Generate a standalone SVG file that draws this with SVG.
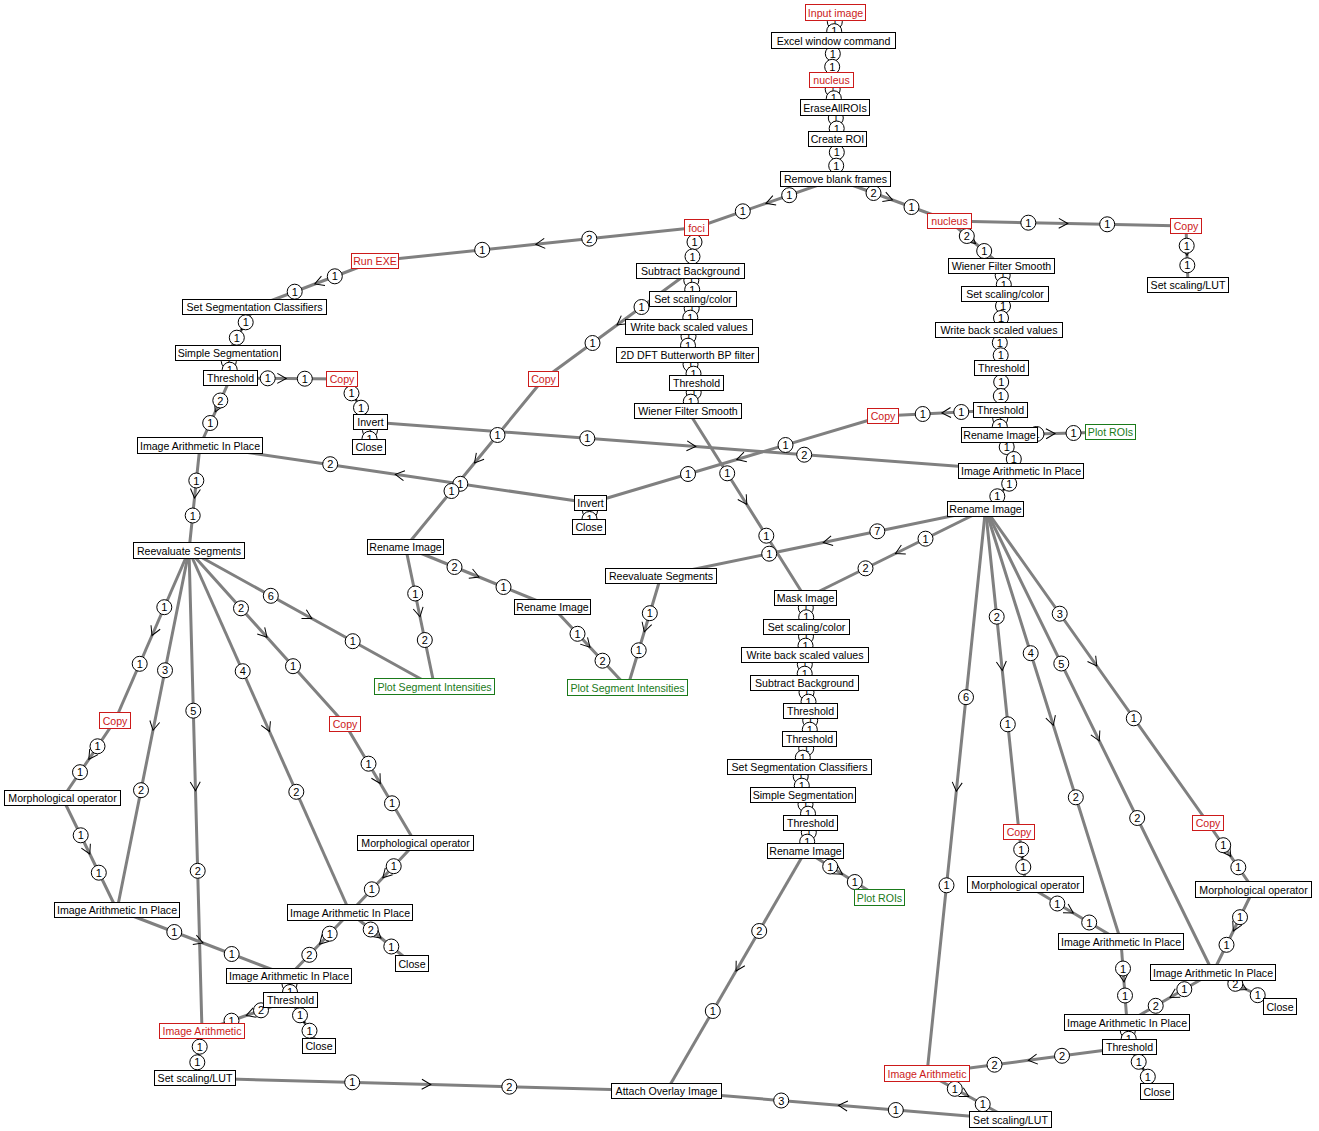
<svg xmlns="http://www.w3.org/2000/svg" width="1319" height="1131" viewBox="0 0 1319 1131">
<style>
text{font-family:"Liberation Sans",Arial,sans-serif;font-size:11px;text-anchor:middle}
.e{fill:none;stroke:#808080;stroke-width:3;marker-mid:url(#chev)}
.p circle{fill:#fff;stroke:#000;stroke-width:1}
.p text{fill:#000}
.node rect{fill:#fff;stroke:#000;stroke-width:1}
.node text{fill:#000;font-size:10.6px}
.red rect{stroke:#cc1a1a}
.red text{fill:#cc1a1a}
.grn rect{stroke:#1a7a1a}
.grn text{fill:#1a7a1a}
</style>
<defs>
<marker id="chev" viewBox="-10 -6 12 12" refX="0" refY="0" markerWidth="12" markerHeight="12" markerUnits="userSpaceOnUse" orient="auto">
<path d="M-9,-5L0,0L-9,5" fill="none" stroke="#000" stroke-width="1"/>
</marker>
</defs>
<rect width="1319" height="1131" fill="#fff"/>
<g id="connectors">
<g id="lines">
<path class="e" d="M835.5 12.5L834.5 26.5L833.5 40.5"/>
<path class="e" d="M833.5 40.5L832.5 60.3L831.5 80"/>
<path class="e" d="M831.5 80L833.3 93.8L835 107.5"/>
<path class="e" d="M835 107.5L836.3 123.3L837.5 139"/>
<path class="e" d="M837.5 139L836.5 159L835.5 179"/>
<path class="e" d="M835.5 179L766 203.3L696.5 227.5"/>
<path class="e" d="M835.5 179L892.5 200L949.5 221"/>
<path class="e" d="M949.5 221L1067.8 223.5L1186 226"/>
<path class="e" d="M1186 226L1187 255.5L1188 285"/>
<path class="e" d="M949.5 221L975.5 243.5L1001.5 266"/>
<path class="e" d="M1001.5 266L1003.3 280L1005 294"/>
<path class="e" d="M1005 294L1002 312L999 330"/>
<path class="e" d="M999 330L1000.3 349L1001.5 368"/>
<path class="e" d="M1001.5 368L1001 389L1000.5 410"/>
<path class="e" d="M1000.5 410L1000 422.5L999.5 435"/>
<path class="e" d="M1000.5 410L941.8 413L883 416"/>
<path class="e" d="M999.5 435L1055 433.5L1110.5 432"/>
<path class="e" d="M999.5 435L1010.3 453L1021 471"/>
<path class="e" d="M1021 471L1003.3 490L985.5 509"/>
<path class="e" d="M883 416L736.8 459.5L590.5 503"/>
<path class="e" d="M370.5 422L695.8 446.5L1021 471"/>
<path class="e" d="M590.5 503L395.3 474.3L200 445.5"/>
<path class="e" d="M590.5 503L589.8 515L589 527"/>
<path class="e" d="M370.5 422L369.8 434.5L369 447"/>
<path class="e" d="M342 379L356.3 400.5L370.5 422"/>
<path class="e" d="M230.5 378L286.3 378.5L342 379"/>
<path class="e" d="M230.5 378L215.3 411.8L200 445.5"/>
<path class="e" d="M228 353L229.3 365.5L230.5 378"/>
<path class="e" d="M254.5 307L241.3 330L228 353"/>
<path class="e" d="M375 261L314.8 284L254.5 307"/>
<path class="e" d="M696.5 227.5L535.8 244.3L375 261"/>
<path class="e" d="M696.5 227.5L693.5 249.3L690.5 271"/>
<path class="e" d="M690.5 271L691.8 285L693 299"/>
<path class="e" d="M693 299L691 313L689 327"/>
<path class="e" d="M689 327L688.3 341L687.5 355"/>
<path class="e" d="M687.5 355L692 369L696.5 383"/>
<path class="e" d="M696.5 383L692.3 397L688 411"/>
<path class="e" d="M690.5 271L617 325L543.5 379"/>
<path class="e" d="M543.5 379L474.5 463L405.5 547"/>
<path class="e" d="M405.5 547L420 616.8L434.5 686.5"/>
<path class="e" d="M405.5 547L479 577L552.5 607"/>
<path class="e" d="M552.5 607L590 647.3L627.5 687.5"/>
<path class="e" d="M661 576L644.3 631.8L627.5 687.5"/>
<path class="e" d="M189 550.5L311.8 618.5L434.5 686.5"/>
<path class="e" d="M985.5 509L823.3 542.5L661 576"/>
<path class="e" d="M985.5 509L895.5 553.5L805.5 598"/>
<path class="e" d="M688 411L746.8 504.5L805.5 598"/>
<path class="e" d="M805.5 598L806 612.5L806.5 627"/>
<path class="e" d="M806.5 627L805.8 641L805 655"/>
<path class="e" d="M805 655L804.8 669L804.5 683"/>
<path class="e" d="M804.5 683L807.5 697L810.5 711"/>
<path class="e" d="M810.5 711L810 725L809.5 739"/>
<path class="e" d="M809.5 739L804.5 753L799.5 767"/>
<path class="e" d="M799.5 767L801.3 781L803 795"/>
<path class="e" d="M803 795L806.8 809L810.5 823"/>
<path class="e" d="M810.5 823L808 837L805.5 851"/>
<path class="e" d="M805.5 851L842.5 874.3L879.5 897.5"/>
<path class="e" d="M805.5 851L736 971L666.5 1091"/>
<path class="e" d="M195 1078L430.8 1084.5L666.5 1091"/>
<path class="e" d="M1010.5 1119.5L838.5 1105.3L666.5 1091"/>
<path class="e" d="M202 1031L198.5 1054.5L195 1078"/>
<path class="e" d="M927 1073.5L968.8 1096.5L1010.5 1119.5"/>
<path class="e" d="M1129.5 1047L1028.3 1060.3L927 1073.5"/>
<path class="e" d="M1129.5 1047L1143.3 1069.3L1157 1091.5"/>
<path class="e" d="M1127 1022.5L1128.3 1034.8L1129.5 1047"/>
<path class="e" d="M1121 941.5L1124 982L1127 1022.5"/>
<path class="e" d="M1213 972.5L1170 997.5L1127 1022.5"/>
<path class="e" d="M1213 972.5L1246.5 989.5L1280 1006.5"/>
<path class="e" d="M1253.5 889.5L1233.3 931L1213 972.5"/>
<path class="e" d="M1208 823L1230.8 856.3L1253.5 889.5"/>
<path class="e" d="M1019 832L1022.3 858.3L1025.5 884.5"/>
<path class="e" d="M1025.5 884.5L1073.3 913L1121 941.5"/>
<path class="e" d="M985.5 509L956.3 791.3L927 1073.5"/>
<path class="e" d="M985.5 509L1002.3 670.5L1019 832"/>
<path class="e" d="M985.5 509L1053.3 725.3L1121 941.5"/>
<path class="e" d="M985.5 509L1099.3 740.8L1213 972.5"/>
<path class="e" d="M985.5 509L1096.8 666L1208 823"/>
<path class="e" d="M189 550.5L152 635.5L115 720.5"/>
<path class="e" d="M189 550.5L153 730.3L117 910"/>
<path class="e" d="M189 550.5L195.5 790.8L202 1031"/>
<path class="e" d="M189 550.5L269.5 731.5L350 912.5"/>
<path class="e" d="M189 550.5L267 637.3L345 724"/>
<path class="e" d="M200 445.5L194.5 498L189 550.5"/>
<path class="e" d="M115 720.5L88.8 759.3L62.5 798"/>
<path class="e" d="M62.5 798L89.8 854L117 910"/>
<path class="e" d="M117 910L203 943L289 976"/>
<path class="e" d="M345 724L380.3 783.5L415.5 843"/>
<path class="e" d="M415.5 843L382.8 877.8L350 912.5"/>
<path class="e" d="M350 912.5L319.5 944.3L289 976"/>
<path class="e" d="M350 912.5L381 938L412 963.5"/>
<path class="e" d="M289 976L289.8 988L290.5 1000"/>
<path class="e" d="M290.5 1000L246.3 1015.5L202 1031"/>
<path class="e" d="M290.5 1000L304.8 1023L319 1046"/>
</g>
<g id="ports" class="p">
<g transform="translate(834.8,21.8)"><circle r="7.5"/><text y="4">1</text></g>
<g transform="translate(834.2,31.2)"><circle r="7.5"/><text y="4">1</text></g>
<g transform="translate(832.8,53.7)"><circle r="7.5"/><text y="4">1</text></g>
<g transform="translate(832.2,66.8)"><circle r="7.5"/><text y="4">1</text></g>
<g transform="translate(832.7,89.2)"><circle r="7.5"/><text y="4">1</text></g>
<g transform="translate(833.8,98.3)"><circle r="7.5"/><text y="4">1</text></g>
<g transform="translate(835.8,118)"><circle r="7.5"/><text y="4">1</text></g>
<g transform="translate(836.7,128.5)"><circle r="7.5"/><text y="4">1</text></g>
<g transform="translate(836.8,152.3)"><circle r="7.5"/><text y="4">1</text></g>
<g transform="translate(836.2,165.7)"><circle r="7.5"/><text y="4">1</text></g>
<g transform="translate(789.2,195.2)"><circle r="7.5"/><text y="4">1</text></g>
<g transform="translate(742.8,211.3)"><circle r="7.5"/><text y="4">1</text></g>
<g transform="translate(873.5,193)"><circle r="7.5"/><text y="4">2</text></g>
<g transform="translate(911.5,207)"><circle r="7.5"/><text y="4">1</text></g>
<g transform="translate(1028.3,222.7)"><circle r="7.5"/><text y="4">1</text></g>
<g transform="translate(1107.2,224.3)"><circle r="7.5"/><text y="4">1</text></g>
<g transform="translate(1186.7,245.7)"><circle r="7.5"/><text y="4">1</text></g>
<g transform="translate(1187.3,265.3)"><circle r="7.5"/><text y="4">1</text></g>
<g transform="translate(966.8,236)"><circle r="7.5"/><text y="4">2</text></g>
<g transform="translate(984.2,251)"><circle r="7.5"/><text y="4">1</text></g>
<g transform="translate(1002.7,275.3)"><circle r="7.5"/><text y="4">1</text></g>
<g transform="translate(1003.8,284.7)"><circle r="7.5"/><text y="4">1</text></g>
<g transform="translate(1003,306)"><circle r="7.5"/><text y="4">1</text></g>
<g transform="translate(1001,318)"><circle r="7.5"/><text y="4">1</text></g>
<g transform="translate(999.8,342.7)"><circle r="7.5"/><text y="4">1</text></g>
<g transform="translate(1000.7,355.3)"><circle r="7.5"/><text y="4">1</text></g>
<g transform="translate(1001.2,382)"><circle r="7.5"/><text y="4">1</text></g>
<g transform="translate(1000.8,396)"><circle r="7.5"/><text y="4">1</text></g>
<g transform="translate(1000.2,418.3)"><circle r="7.5"/><text y="4">1</text></g>
<g transform="translate(999.8,426.7)"><circle r="7.5"/><text y="4">1</text></g>
<g transform="translate(961.3,412)"><circle r="7.5"/><text y="4">1</text></g>
<g transform="translate(922.7,414)"><circle r="7.5"/><text y="4">1</text></g>
<g transform="translate(1036.5,434)"><circle r="7.5"/><text y="4">1</text></g>
<g transform="translate(1073.5,433)"><circle r="7.5"/><text y="4">1</text></g>
<g transform="translate(1006.7,447)"><circle r="7.5"/><text y="4">1</text></g>
<g transform="translate(1013.8,459)"><circle r="7.5"/><text y="4">1</text></g>
<g transform="translate(1009.2,483.7)"><circle r="7.5"/><text y="4">1</text></g>
<g transform="translate(997.3,496.3)"><circle r="7.5"/><text y="4">1</text></g>
<g transform="translate(785.5,445)"><circle r="7.5"/><text y="4">1</text></g>
<g transform="translate(688,474)"><circle r="7.5"/><text y="4">1</text></g>
<g transform="translate(587.3,438.3)"><circle r="7.5"/><text y="4">1</text></g>
<g transform="translate(804.2,454.7)"><circle r="7.5"/><text y="4">2</text></g>
<g transform="translate(460.3,483.8)"><circle r="7.5"/><text y="4">1</text></g>
<g transform="translate(330.2,464.2)"><circle r="7.5"/><text y="4">2</text></g>
<g transform="translate(590,511)"><circle r="7.5"/><text y="4">1</text></g>
<g transform="translate(589.5,519)"><circle r="7.5"/><text y="4">1</text></g>
<g transform="translate(370,430.3)"><circle r="7.5"/><text y="4">1</text></g>
<g transform="translate(369.5,438.7)"><circle r="7.5"/><text y="4">1</text></g>
<g transform="translate(351.5,393.3)"><circle r="7.5"/><text y="4">1</text></g>
<g transform="translate(361,407.7)"><circle r="7.5"/><text y="4">1</text></g>
<g transform="translate(267.7,378.3)"><circle r="7.5"/><text y="4">1</text></g>
<g transform="translate(304.8,378.7)"><circle r="7.5"/><text y="4">1</text></g>
<g transform="translate(220.3,400.5)"><circle r="7.5"/><text y="4">2</text></g>
<g transform="translate(210.2,423)"><circle r="7.5"/><text y="4">1</text></g>
<g transform="translate(228.8,361.3)"><circle r="7.5"/><text y="4">1</text></g>
<g transform="translate(229.7,369.7)"><circle r="7.5"/><text y="4">1</text></g>
<g transform="translate(245.7,322.3)"><circle r="7.5"/><text y="4">1</text></g>
<g transform="translate(236.8,337.7)"><circle r="7.5"/><text y="4">1</text></g>
<g transform="translate(334.8,276.3)"><circle r="7.5"/><text y="4">1</text></g>
<g transform="translate(294.7,291.7)"><circle r="7.5"/><text y="4">1</text></g>
<g transform="translate(589.3,238.7)"><circle r="7.5"/><text y="4">2</text></g>
<g transform="translate(482.2,249.8)"><circle r="7.5"/><text y="4">1</text></g>
<g transform="translate(694.5,242)"><circle r="7.5"/><text y="4">1</text></g>
<g transform="translate(692.5,256.5)"><circle r="7.5"/><text y="4">1</text></g>
<g transform="translate(691.3,280.3)"><circle r="7.5"/><text y="4">1</text></g>
<g transform="translate(692.2,289.7)"><circle r="7.5"/><text y="4">1</text></g>
<g transform="translate(691.7,308.3)"><circle r="7.5"/><text y="4">1</text></g>
<g transform="translate(690.3,317.7)"><circle r="7.5"/><text y="4">1</text></g>
<g transform="translate(688.5,336.3)"><circle r="7.5"/><text y="4">1</text></g>
<g transform="translate(688,345.7)"><circle r="7.5"/><text y="4">1</text></g>
<g transform="translate(690.5,364.3)"><circle r="7.5"/><text y="4">1</text></g>
<g transform="translate(693.5,373.7)"><circle r="7.5"/><text y="4">1</text></g>
<g transform="translate(693.7,392.3)"><circle r="7.5"/><text y="4">1</text></g>
<g transform="translate(690.8,401.7)"><circle r="7.5"/><text y="4">1</text></g>
<g transform="translate(641.5,307)"><circle r="7.5"/><text y="4">1</text></g>
<g transform="translate(592.5,343)"><circle r="7.5"/><text y="4">1</text></g>
<g transform="translate(497.5,435)"><circle r="7.5"/><text y="4">1</text></g>
<g transform="translate(451.5,491)"><circle r="7.5"/><text y="4">1</text></g>
<g transform="translate(415.2,593.5)"><circle r="7.5"/><text y="4">1</text></g>
<g transform="translate(424.8,640)"><circle r="7.5"/><text y="4">2</text></g>
<g transform="translate(454.5,567)"><circle r="7.5"/><text y="4">2</text></g>
<g transform="translate(503.5,587)"><circle r="7.5"/><text y="4">1</text></g>
<g transform="translate(577.5,633.8)"><circle r="7.5"/><text y="4">1</text></g>
<g transform="translate(602.5,660.7)"><circle r="7.5"/><text y="4">2</text></g>
<g transform="translate(649.8,613.2)"><circle r="7.5"/><text y="4">1</text></g>
<g transform="translate(638.7,650.3)"><circle r="7.5"/><text y="4">1</text></g>
<g transform="translate(270.8,595.8)"><circle r="7.5"/><text y="4">6</text></g>
<g transform="translate(352.7,641.2)"><circle r="7.5"/><text y="4">1</text></g>
<g transform="translate(877.3,531.3)"><circle r="7.5"/><text y="4">7</text></g>
<g transform="translate(769.2,553.7)"><circle r="7.5"/><text y="4">1</text></g>
<g transform="translate(925.5,538.7)"><circle r="7.5"/><text y="4">1</text></g>
<g transform="translate(865.5,568.3)"><circle r="7.5"/><text y="4">2</text></g>
<g transform="translate(727.2,473.3)"><circle r="7.5"/><text y="4">1</text></g>
<g transform="translate(766.3,535.7)"><circle r="7.5"/><text y="4">1</text></g>
<g transform="translate(805.8,607.7)"><circle r="7.5"/><text y="4">1</text></g>
<g transform="translate(806.2,617.3)"><circle r="7.5"/><text y="4">1</text></g>
<g transform="translate(806,636.3)"><circle r="7.5"/><text y="4">1</text></g>
<g transform="translate(805.5,645.7)"><circle r="7.5"/><text y="4">1</text></g>
<g transform="translate(804.8,664.3)"><circle r="7.5"/><text y="4">1</text></g>
<g transform="translate(804.7,673.7)"><circle r="7.5"/><text y="4">1</text></g>
<g transform="translate(806.5,692.3)"><circle r="7.5"/><text y="4">1</text></g>
<g transform="translate(808.5,701.7)"><circle r="7.5"/><text y="4">1</text></g>
<g transform="translate(810.2,720.3)"><circle r="7.5"/><text y="4">1</text></g>
<g transform="translate(809.8,729.7)"><circle r="7.5"/><text y="4">1</text></g>
<g transform="translate(806.2,748.3)"><circle r="7.5"/><text y="4">1</text></g>
<g transform="translate(802.8,757.7)"><circle r="7.5"/><text y="4">1</text></g>
<g transform="translate(800.7,776.3)"><circle r="7.5"/><text y="4">1</text></g>
<g transform="translate(801.8,785.7)"><circle r="7.5"/><text y="4">1</text></g>
<g transform="translate(805.5,804.3)"><circle r="7.5"/><text y="4">1</text></g>
<g transform="translate(808,813.7)"><circle r="7.5"/><text y="4">1</text></g>
<g transform="translate(808.8,832.3)"><circle r="7.5"/><text y="4">1</text></g>
<g transform="translate(807.2,841.7)"><circle r="7.5"/><text y="4">1</text></g>
<g transform="translate(830.2,866.5)"><circle r="7.5"/><text y="4">1</text></g>
<g transform="translate(854.8,882)"><circle r="7.5"/><text y="4">1</text></g>
<g transform="translate(759.2,931)"><circle r="7.5"/><text y="4">2</text></g>
<g transform="translate(712.8,1011)"><circle r="7.5"/><text y="4">1</text></g>
<g transform="translate(352.2,1082.3)"><circle r="7.5"/><text y="4">1</text></g>
<g transform="translate(509.3,1086.7)"><circle r="7.5"/><text y="4">2</text></g>
<g transform="translate(895.8,1110)"><circle r="7.5"/><text y="4">1</text></g>
<g transform="translate(781.2,1100.5)"><circle r="7.5"/><text y="4">3</text></g>
<g transform="translate(199.7,1046.7)"><circle r="7.5"/><text y="4">1</text></g>
<g transform="translate(197.3,1062.3)"><circle r="7.5"/><text y="4">1</text></g>
<g transform="translate(954.8,1088.8)"><circle r="7.5"/><text y="4">1</text></g>
<g transform="translate(982.7,1104.2)"><circle r="7.5"/><text y="4">1</text></g>
<g transform="translate(1062,1055.8)"><circle r="7.5"/><text y="4">2</text></g>
<g transform="translate(994.5,1064.7)"><circle r="7.5"/><text y="4">2</text></g>
<g transform="translate(1138.7,1061.8)"><circle r="7.5"/><text y="4">1</text></g>
<g transform="translate(1147.8,1076.7)"><circle r="7.5"/><text y="4">1</text></g>
<g transform="translate(1127.8,1030.7)"><circle r="7.5"/><text y="4">1</text></g>
<g transform="translate(1128.7,1038.8)"><circle r="7.5"/><text y="4">1</text></g>
<g transform="translate(1123,968.5)"><circle r="7.5"/><text y="4">1</text></g>
<g transform="translate(1125,995.5)"><circle r="7.5"/><text y="4">1</text></g>
<g transform="translate(1184.3,989.2)"><circle r="7.5"/><text y="4">1</text></g>
<g transform="translate(1155.7,1005.8)"><circle r="7.5"/><text y="4">2</text></g>
<g transform="translate(1235.3,983.8)"><circle r="7.5"/><text y="4">2</text></g>
<g transform="translate(1257.7,995.2)"><circle r="7.5"/><text y="4">1</text></g>
<g transform="translate(1240,917.2)"><circle r="7.5"/><text y="4">1</text></g>
<g transform="translate(1226.5,944.8)"><circle r="7.5"/><text y="4">1</text></g>
<g transform="translate(1223.2,845.2)"><circle r="7.5"/><text y="4">1</text></g>
<g transform="translate(1238.3,867.3)"><circle r="7.5"/><text y="4">1</text></g>
<g transform="translate(1021.2,849.5)"><circle r="7.5"/><text y="4">1</text></g>
<g transform="translate(1023.3,867)"><circle r="7.5"/><text y="4">1</text></g>
<g transform="translate(1057.3,903.5)"><circle r="7.5"/><text y="4">1</text></g>
<g transform="translate(1089.2,922.5)"><circle r="7.5"/><text y="4">1</text></g>
<g transform="translate(966,697.2)"><circle r="7.5"/><text y="4">6</text></g>
<g transform="translate(946.5,885.3)"><circle r="7.5"/><text y="4">1</text></g>
<g transform="translate(996.7,616.7)"><circle r="7.5"/><text y="4">2</text></g>
<g transform="translate(1007.8,724.3)"><circle r="7.5"/><text y="4">1</text></g>
<g transform="translate(1030.7,653.2)"><circle r="7.5"/><text y="4">4</text></g>
<g transform="translate(1075.8,797.3)"><circle r="7.5"/><text y="4">2</text></g>
<g transform="translate(1061.3,663.5)"><circle r="7.5"/><text y="4">5</text></g>
<g transform="translate(1137.2,818)"><circle r="7.5"/><text y="4">2</text></g>
<g transform="translate(1059.7,613.7)"><circle r="7.5"/><text y="4">3</text></g>
<g transform="translate(1133.8,718.3)"><circle r="7.5"/><text y="4">1</text></g>
<g transform="translate(164.3,607.2)"><circle r="7.5"/><text y="4">1</text></g>
<g transform="translate(139.7,663.8)"><circle r="7.5"/><text y="4">1</text></g>
<g transform="translate(165,670.3)"><circle r="7.5"/><text y="4">3</text></g>
<g transform="translate(141,790.2)"><circle r="7.5"/><text y="4">2</text></g>
<g transform="translate(193.3,710.7)"><circle r="7.5"/><text y="4">5</text></g>
<g transform="translate(197.7,870.8)"><circle r="7.5"/><text y="4">2</text></g>
<g transform="translate(242.7,671.2)"><circle r="7.5"/><text y="4">4</text></g>
<g transform="translate(296.3,791.8)"><circle r="7.5"/><text y="4">2</text></g>
<g transform="translate(241,608.3)"><circle r="7.5"/><text y="4">2</text></g>
<g transform="translate(293,666.2)"><circle r="7.5"/><text y="4">1</text></g>
<g transform="translate(196.3,480.5)"><circle r="7.5"/><text y="4">1</text></g>
<g transform="translate(192.7,515.5)"><circle r="7.5"/><text y="4">1</text></g>
<g transform="translate(97.5,746.3)"><circle r="7.5"/><text y="4">1</text></g>
<g transform="translate(80,772.2)"><circle r="7.5"/><text y="4">1</text></g>
<g transform="translate(80.7,835.3)"><circle r="7.5"/><text y="4">1</text></g>
<g transform="translate(98.8,872.7)"><circle r="7.5"/><text y="4">1</text></g>
<g transform="translate(174.3,932)"><circle r="7.5"/><text y="4">1</text></g>
<g transform="translate(231.7,954)"><circle r="7.5"/><text y="4">1</text></g>
<g transform="translate(368.5,763.7)"><circle r="7.5"/><text y="4">1</text></g>
<g transform="translate(392,803.3)"><circle r="7.5"/><text y="4">1</text></g>
<g transform="translate(393.7,866.2)"><circle r="7.5"/><text y="4">1</text></g>
<g transform="translate(371.8,889.3)"><circle r="7.5"/><text y="4">1</text></g>
<g transform="translate(329.7,933.7)"><circle r="7.5"/><text y="4">1</text></g>
<g transform="translate(309.3,954.8)"><circle r="7.5"/><text y="4">2</text></g>
<g transform="translate(370.7,929.5)"><circle r="7.5"/><text y="4">2</text></g>
<g transform="translate(391.3,946.5)"><circle r="7.5"/><text y="4">1</text></g>
<g transform="translate(289.5,984)"><circle r="7.5"/><text y="4">1</text></g>
<g transform="translate(290,992)"><circle r="7.5"/><text y="4">1</text></g>
<g transform="translate(261,1010.3)"><circle r="7.5"/><text y="4">2</text></g>
<g transform="translate(231.5,1020.7)"><circle r="7.5"/><text y="4">1</text></g>
<g transform="translate(300,1015.3)"><circle r="7.5"/><text y="4">1</text></g>
<g transform="translate(309.5,1030.7)"><circle r="7.5"/><text y="4">1</text></g>
</g>
</g>
<g id="nodes">
<g id="n1" class="node red"><rect x="805.5" y="4.5" width="60" height="16"/><text x="835.5" y="16.5">Input image</text></g>
<g id="n2" class="node"><rect x="771.5" y="32.5" width="124" height="16"/><text x="833.5" y="44.5">Excel window command</text></g>
<g id="n3" class="node red"><rect x="809.5" y="72.5" width="44" height="15"/><text x="831.5" y="84">nucleus</text></g>
<g id="n4" class="node"><rect x="800.5" y="99.5" width="69" height="16"/><text x="835" y="111.5">EraseAllROIs</text></g>
<g id="n5" class="node"><rect x="808.5" y="131.5" width="58" height="15"/><text x="837.5" y="143">Create ROI</text></g>
<g id="n6" class="node"><rect x="780.5" y="171.5" width="110" height="15"/><text x="835.5" y="183">Remove blank frames</text></g>
<g id="n7" class="node red"><rect x="684.5" y="219.5" width="24" height="16"/><text x="696.5" y="231.5">foci</text></g>
<g id="n8" class="node red"><rect x="927.5" y="213.5" width="44" height="15"/><text x="949.5" y="225">nucleus</text></g>
<g id="n9" class="node red"><rect x="1170.5" y="218.5" width="31" height="15"/><text x="1186" y="230">Copy</text></g>
<g id="n10" class="node"><rect x="1147.5" y="277.5" width="81" height="15"/><text x="1188" y="289">Set scaling/LUT</text></g>
<g id="n11" class="node red"><rect x="351.5" y="253.5" width="47" height="15"/><text x="375" y="265">Run EXE</text></g>
<g id="n12" class="node"><rect x="182.5" y="299.5" width="144" height="15"/><text x="254.5" y="311">Set Segmentation Classifiers</text></g>
<g id="n13" class="node"><rect x="175.5" y="345.5" width="105" height="15"/><text x="228" y="357">Simple Segmentation</text></g>
<g id="n14" class="node"><rect x="203.5" y="370.5" width="54" height="15"/><text x="230.5" y="382">Threshold</text></g>
<g id="n15" class="node red"><rect x="326.5" y="371.5" width="31" height="15"/><text x="342" y="383">Copy</text></g>
<g id="n16" class="node"><rect x="353.5" y="414.5" width="34" height="15"/><text x="370.5" y="426">Invert</text></g>
<g id="n17" class="node"><rect x="352.5" y="439.5" width="33" height="15"/><text x="369" y="451">Close</text></g>
<g id="n18" class="node"><rect x="137.5" y="437.5" width="125" height="16"/><text x="200" y="449.5">Image Arithmetic In Place</text></g>
<g id="n19" class="node"><rect x="133.5" y="542.5" width="111" height="16"/><text x="189" y="554.5">Reevaluate Segments</text></g>
<g id="n20" class="node red"><rect x="99.5" y="712.5" width="31" height="16"/><text x="115" y="724.5">Copy</text></g>
<g id="n21" class="node"><rect x="4.5" y="790.5" width="116" height="15"/><text x="62.5" y="802">Morphological operator</text></g>
<g id="n22" class="node"><rect x="54.5" y="902.5" width="125" height="15"/><text x="117" y="914">Image Arithmetic In Place</text></g>
<g id="n23" class="node red"><rect x="329.5" y="716.5" width="31" height="15"/><text x="345" y="728">Copy</text></g>
<g id="n24" class="node"><rect x="357.5" y="835.5" width="116" height="15"/><text x="415.5" y="847">Morphological operator</text></g>
<g id="n25" class="node"><rect x="287.5" y="904.5" width="125" height="16"/><text x="350" y="916.5">Image Arithmetic In Place</text></g>
<g id="n26" class="node"><rect x="395.5" y="955.5" width="33" height="16"/><text x="412" y="967.5">Close</text></g>
<g id="n27" class="node"><rect x="226.5" y="968.5" width="125" height="15"/><text x="289" y="980">Image Arithmetic In Place</text></g>
<g id="n28" class="node"><rect x="263.5" y="992.5" width="54" height="15"/><text x="290.5" y="1004">Threshold</text></g>
<g id="n29" class="node"><rect x="302.5" y="1038.5" width="33" height="15"/><text x="319" y="1050">Close</text></g>
<g id="n30" class="node red"><rect x="159.5" y="1023.5" width="85" height="15"/><text x="202" y="1035">Image Arithmetic</text></g>
<g id="n31" class="node"><rect x="154.5" y="1070.5" width="81" height="15"/><text x="195" y="1082">Set scaling/LUT</text></g>
<g id="n32" class="node"><rect x="611.5" y="1083.5" width="110" height="15"/><text x="666.5" y="1095">Attach Overlay Image</text></g>
<g id="n33" class="node"><rect x="636.5" y="263.5" width="108" height="15"/><text x="690.5" y="275">Subtract Background</text></g>
<g id="n34" class="node"><rect x="649.5" y="291.5" width="87" height="15"/><text x="693" y="303">Set scaling/color</text></g>
<g id="n35" class="node"><rect x="625.5" y="319.5" width="127" height="15"/><text x="689" y="331">Write back scaled values</text></g>
<g id="n36" class="node"><rect x="616.5" y="347.5" width="142" height="15"/><text x="687.5" y="359">2D DFT Butterworth BP filter</text></g>
<g id="n37" class="node"><rect x="669.5" y="375.5" width="54" height="15"/><text x="696.5" y="387">Threshold</text></g>
<g id="n38" class="node"><rect x="634.5" y="403.5" width="107" height="15"/><text x="688" y="415">Wiener Filter Smooth</text></g>
<g id="n39" class="node red"><rect x="528.5" y="371.5" width="30" height="15"/><text x="543.5" y="383">Copy</text></g>
<g id="n40" class="node"><rect x="574.5" y="495.5" width="32" height="15"/><text x="590.5" y="507">Invert</text></g>
<g id="n41" class="node"><rect x="572.5" y="519.5" width="33" height="15"/><text x="589" y="531">Close</text></g>
<g id="n42" class="node"><rect x="367.5" y="539.5" width="76" height="15"/><text x="405.5" y="551">Rename Image</text></g>
<g id="n43" class="node"><rect x="514.5" y="599.5" width="76" height="15"/><text x="552.5" y="611">Rename Image</text></g>
<g id="n44" class="node grn"><rect x="374.5" y="678.5" width="120" height="16"/><text x="434.5" y="690.5">Plot Segment Intensities</text></g>
<g id="n45" class="node grn"><rect x="567.5" y="679.5" width="120" height="16"/><text x="627.5" y="691.5">Plot Segment Intensities</text></g>
<g id="n46" class="node"><rect x="605.5" y="568.5" width="111" height="15"/><text x="661" y="580">Reevaluate Segments</text></g>
<g id="n47" class="node"><rect x="774.5" y="590.5" width="62" height="15"/><text x="805.5" y="602">Mask Image</text></g>
<g id="n48" class="node"><rect x="763.5" y="619.5" width="86" height="15"/><text x="806.5" y="631">Set scaling/color</text></g>
<g id="n49" class="node"><rect x="741.5" y="647.5" width="127" height="15"/><text x="805" y="659">Write back scaled values</text></g>
<g id="n50" class="node"><rect x="750.5" y="675.5" width="108" height="15"/><text x="804.5" y="687">Subtract Background</text></g>
<g id="n51" class="node"><rect x="783.5" y="703.5" width="54" height="15"/><text x="810.5" y="715">Threshold</text></g>
<g id="n52" class="node"><rect x="782.5" y="731.5" width="54" height="15"/><text x="809.5" y="743">Threshold</text></g>
<g id="n53" class="node"><rect x="727.5" y="759.5" width="144" height="15"/><text x="799.5" y="771">Set Segmentation Classifiers</text></g>
<g id="n54" class="node"><rect x="750.5" y="787.5" width="105" height="15"/><text x="803" y="799">Simple Segmentation</text></g>
<g id="n55" class="node"><rect x="783.5" y="815.5" width="54" height="15"/><text x="810.5" y="827">Threshold</text></g>
<g id="n56" class="node"><rect x="767.5" y="843.5" width="76" height="15"/><text x="805.5" y="855">Rename Image</text></g>
<g id="n57" class="node grn"><rect x="854.5" y="889.5" width="50" height="16"/><text x="879.5" y="901.5">Plot ROIs</text></g>
<g id="n58" class="node"><rect x="948.5" y="258.5" width="106" height="15"/><text x="1001.5" y="270">Wiener Filter Smooth</text></g>
<g id="n59" class="node"><rect x="961.5" y="286.5" width="87" height="15"/><text x="1005" y="298">Set scaling/color</text></g>
<g id="n60" class="node"><rect x="935.5" y="322.5" width="127" height="15"/><text x="999" y="334">Write back scaled values</text></g>
<g id="n61" class="node"><rect x="974.5" y="360.5" width="54" height="15"/><text x="1001.5" y="372">Threshold</text></g>
<g id="n62" class="node"><rect x="973.5" y="402.5" width="54" height="15"/><text x="1000.5" y="414">Threshold</text></g>
<g id="n63" class="node"><rect x="961.5" y="427.5" width="76" height="15"/><text x="999.5" y="439">Rename Image</text></g>
<g id="n64" class="node grn"><rect x="1085.5" y="424.5" width="50" height="15"/><text x="1110.5" y="436">Plot ROIs</text></g>
<g id="n65" class="node"><rect x="958.5" y="463.5" width="125" height="15"/><text x="1021" y="475">Image Arithmetic In Place</text></g>
<g id="n66" class="node"><rect x="947.5" y="501.5" width="76" height="15"/><text x="985.5" y="513">Rename Image</text></g>
<g id="n67" class="node red"><rect x="1003.5" y="824.5" width="31" height="15"/><text x="1019" y="836">Copy</text></g>
<g id="n68" class="node"><rect x="967.5" y="876.5" width="116" height="16"/><text x="1025.5" y="888.5">Morphological operator</text></g>
<g id="n69" class="node"><rect x="1058.5" y="933.5" width="125" height="16"/><text x="1121" y="945.5">Image Arithmetic In Place</text></g>
<g id="n70" class="node red"><rect x="1192.5" y="815.5" width="31" height="15"/><text x="1208" y="827">Copy</text></g>
<g id="n71" class="node"><rect x="1195.5" y="881.5" width="116" height="16"/><text x="1253.5" y="893.5">Morphological operator</text></g>
<g id="n72" class="node"><rect x="1150.5" y="964.5" width="125" height="16"/><text x="1213" y="976.5">Image Arithmetic In Place</text></g>
<g id="n73" class="node"><rect x="1263.5" y="998.5" width="33" height="16"/><text x="1280" y="1010.5">Close</text></g>
<g id="n74" class="node"><rect x="1064.5" y="1014.5" width="125" height="16"/><text x="1127" y="1026.5">Image Arithmetic In Place</text></g>
<g id="n75" class="node"><rect x="1102.5" y="1039.5" width="54" height="15"/><text x="1129.5" y="1051">Threshold</text></g>
<g id="n76" class="node"><rect x="1140.5" y="1083.5" width="33" height="16"/><text x="1157" y="1095.5">Close</text></g>
<g id="n77" class="node"><rect x="969.5" y="1111.5" width="82" height="16"/><text x="1010.5" y="1123.5">Set scaling/LUT</text></g>
<g id="n78" class="node red"><rect x="884.5" y="1065.5" width="85" height="16"/><text x="927" y="1077.5">Image Arithmetic</text></g>
<g id="n79" class="node red"><rect x="867.5" y="408.5" width="31" height="15"/><text x="883" y="420">Copy</text></g>
</g>
</svg>
